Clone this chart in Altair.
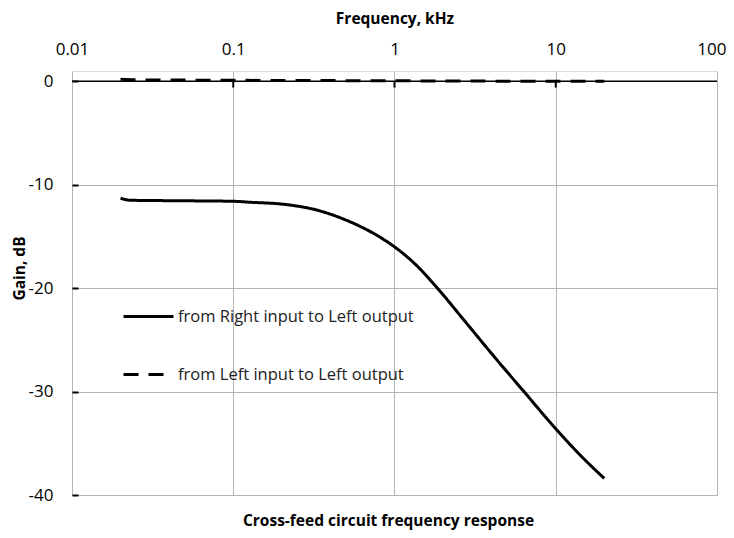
import altair as alt
import pandas as pd

# Data
freq_rl = [0.02, 0.023, 0.05, 0.1, 0.13, 0.2, 0.33, 0.53, 0.78, 1.0, 1.38, 1.8, 2.7, 4.35, 6.35, 10.0, 14.3, 20.0]
gain_rl = [-11.3, -11.5, -11.55, -11.6, -11.7, -11.87, -12.45, -13.58, -14.9, -16.0, -17.85, -19.8, -23.1, -27.0, -30.0, -33.6, -36.2, -38.4]

freq_ll = [0.02, 0.025, 0.05, 0.1, 0.3, 1.0, 3.0, 10.0, 20.0]
gain_ll = [0.2, 0.15, 0.12, 0.1, 0.08, 0.05, 0.03, 0.0, 0.0]

series_names = ["from Right input to Left output", "from Left input to Left output"]
x_ticks = [0.01, 0.1, 1, 10, 100]
y_ticks = [-40, -30, -20, -10, 0]

rows = []
for f, g in zip(freq_rl, gain_rl):
    rows.append({"f": f, "g": g, "s": series_names[0]})
for f, g in zip(freq_ll, gain_ll):
    rows.append({"f": f, "g": g, "s": series_names[1]})
df = pd.DataFrame(rows)

FONT = "Open Sans"

xscale = alt.Scale(type="log", domain=[0.01, 100])
yscale = alt.Scale(domain=[-40, 1], nice=False)

lines = alt.Chart(df).mark_line(strokeWidth=3, color="black", interpolate="monotone").encode(
    x=alt.X("f:Q", scale=xscale,
            axis=alt.Axis(orient="top", values=x_ticks, title="Frequency, kHz",
                          labelExpr="'' + datum.value", labelFlush=False,
                          labelAlign={"condition": {"test": "datum.value >= 100", "value": "right"}, "value": "center"},
                          labelOffset={"condition": {"test": "datum.value >= 100", "value": 9}, "value": 0},
                          domain=False, ticks=False, grid=True, gridColor="#b4b4b4", gridWidth=1,
                          labelFontSize=17, labelPadding=13, titleFontSize=15.5, titleFontWeight="bold",
                          titlePadding=14, labelColor="black", titleColor="black",
                          labelFont=FONT, titleFont=FONT)),
    y=alt.Y("g:Q", scale=yscale,
            axis=alt.Axis(orient="left", values=y_ticks, title="Gain, dB",
                          labelExpr="'' + datum.value",
                          domain=False, ticks=True, tickSize=6, tickWidth=2, tickColor="black",
                          offset=-6, labelPadding=19, grid=True, gridColor="#b4b4b4", gridWidth=1,
                          labelFontSize=17, titleFontSize=15.5, titleFontWeight="bold",
                          titleX=-51, titleY=197, labelColor="black", titleColor="black",
                          labelFont=FONT, titleFont=FONT)),
    strokeDash=alt.StrokeDash("s:N", sort=series_names,
                              scale=alt.Scale(domain=series_names, range=[[1, 0], [15, 10]]),
                              legend=alt.Legend(orient="none", legendX=50, legendY=219, title=None,
                                                symbolType="stroke", symbolSize=2500, symbolStrokeWidth=3,
                                                symbolStrokeColor="black", labelFontSize=16.5, labelFont=FONT,
                                                labelColor="#222222", labelOffset=3, labelLimit=400,
                                                rowPadding=23, padding=0)),
)

zero_df = pd.DataFrame({"g": [0]})
zero_line = alt.Chart(zero_df).mark_rule(color="black", strokeWidth=1.5).encode(
    y=alt.Y("g:Q", scale=yscale)
)

tick_df = pd.DataFrame({"f": [0.1, 1, 10], "g": [0, 0, 0], "g2": [-0.6, -0.6, -0.6]})
zero_ticks = alt.Chart(tick_df).mark_rule(color="black", strokeWidth=2).encode(
    x=alt.X("f:Q", scale=xscale),
    y=alt.Y("g:Q", scale=yscale),
    y2="g2:Q",
)

chart = alt.layer(zero_line, zero_ticks, lines).properties(
    width=645,
    height=424,
    title=alt.TitleParams("Cross-feed circuit frequency response", orient="bottom", anchor="middle",
                          fontSize=15.5, fontWeight="bold", font=FONT, color="black", offset=11, dx=-6),
    autosize=alt.AutoSizeParams(type="none"),
    padding={"left": 64, "top": 63, "right": 9, "bottom": 35},
).configure_view(stroke="black", strokeWidth=2.5).configure(background="white")

chart.save("out.html", embed_options={"renderer": "svg", "actions": False})
